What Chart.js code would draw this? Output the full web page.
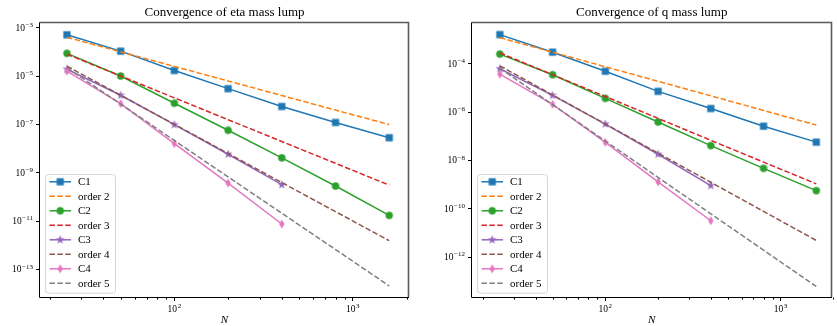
<!DOCTYPE html>
<html lang="en">
<head>
<meta charset="UTF-8">
<title>Convergence of mass lump</title>
<script src="https://cdn.jsdelivr.net/npm/chart.js"></script>
<style>
  html, body { margin: 0; padding: 0; background: #fff; }
  .wrap { position: relative; width: 837px; height: 326px; }
  canvas { position: absolute; top: 0; }
  #etaChart { left: 0; }
  #qChart { left: 418px; }
</style>
</head>
<body>
<div class="wrap">
  <canvas id="etaChart" width="418" height="326"></canvas>
  <canvas id="qChart" width="419" height="326"></canvas>
</div>
<script>
// grid sizes
const N = [25, 50, 100, 200, 400, 800, 1600];

// eta mass lump errors
const etaC1     = [5.1e-4, 1.07e-4, 1.7e-5, 3.0e-6, 5.5e-7, 1.2e-7, 2.8e-8];
const etaOrder2 = [4.0e-4, 1.0e-4, 2.5e-5, 6.25e-6, 1.56e-6, 3.9e-7, 9.8e-8];
const etaC2     = [8.7e-5, 1.0e-5, 7.5e-7, 5.7e-8, 4.1e-9, 2.8e-10, 1.7e-11];
const etaOrder3 = [8.0e-5, 1.0e-5, 1.25e-6, 1.56e-7, 1.95e-8, 2.44e-9, 3.05e-10];
const etaC3     = [1.9e-5, 1.6e-6, 9.7e-8, 5.8e-9, 3.2e-10];
const etaOrder4 = [2.56e-5, 1.6e-6, 1.0e-7, 6.25e-9, 3.9e-10, 2.44e-11, 1.53e-12];
const etaC4     = [1.6e-5, 7.2e-7, 1.6e-8, 3.7e-10, 7.5e-12];
const etaOrder5 = [2.2e-5, 6.9e-7, 2.15e-8, 6.7e-10, 2.1e-11, 6.6e-13, 2.05e-14];

// q mass lump errors
const qC1     = [1.6e-3, 3.0e-4, 4.9e-5, 7.2e-6, 1.4e-6, 2.6e-7, 5.7e-8];
const qOrder2 = [1.2e-3, 3.0e-4, 7.5e-5, 1.875e-5, 4.7e-6, 1.17e-6, 2.9e-7];
const qC2     = [2.5e-4, 3.5e-5, 3.7e-6, 3.9e-7, 4.1e-8, 4.7e-9, 5.6e-10];
const qOrder3 = [2.8e-4, 3.5e-5, 4.4e-6, 5.5e-7, 6.8e-8, 8.5e-9, 1.07e-9];
const qC3     = [6.2e-5, 4.9e-6, 3.2e-7, 1.8e-8, 9.1e-10];
const qOrder4 = [8.2e-5, 5.1e-6, 3.2e-7, 2.0e-8, 1.25e-9, 7.8e-11, 4.9e-12];
const qC4     = [3.7e-5, 2.1e-6, 5.6e-8, 1.3e-9, 3.2e-11];
const qOrder5 = [6.5e-5, 2.03e-6, 6.35e-8, 1.98e-9, 6.2e-11, 1.94e-12, 6.1e-14];

// ticks
const xMajorTicks = [100, 1000];
const xMinorTicks = [20, 30, 40, 50, 60, 70, 80, 90, 200, 300, 400, 500, 600, 700, 800, 900, 2000];
const etaYTicks = [1e-3, 1e-5, 1e-7, 1e-9, 1e-11, 1e-13];
const qYTicks = [1e-4, 1e-6, 1e-8, 1e-10, 1e-12];

const labels = ['C1', 'order 2', 'C2', 'order 3', 'C3', 'order 4', 'C4', 'order 5'];
const colors = ['#1f77b4', '#ff7f0e', '#2ca02c', '#d62728', '#9467bd', '#8c564b', '#e377c2', '#7f7f7f'];

const SERIF = '"Liberation Serif", "DejaVu Serif", serif';

function expOf(v) {
    return Math.round(Math.log10(v));
}

// "10" with a raised exponent, like matplotlib's mathtext labels
function drawPow(ctx, v, x, y, align) {
    const e = String(expOf(v)).replace('-', '\u2212');
    ctx.font = '9.5px ' + SERIF;
    const wb = ctx.measureText('10').width;
    ctx.font = '7px ' + SERIF;
    const we = ctx.measureText(e).width;
    const total = wb + 0.6 + we;
    const left = align === 'right' ? x - total : x - total / 2;
    ctx.textAlign = 'left';
    ctx.textBaseline = 'middle';
    ctx.font = '9.5px ' + SERIF;
    ctx.fillText('10', left, y + 0.5);
    ctx.font = '7px ' + SERIF;
    ctx.fillText(e, left + wb + 0.6, y - 2.6);
}

function makeMarker(shape, color) {
    const c = document.createElement('canvas');
    c.width = 12; c.height = 12;
    const g = c.getContext('2d');
    const m = 6;
    g.fillStyle = color;
    g.beginPath();
    if (shape === 'square') {
        g.rect(m - 3.6, m - 3.6, 7.2, 7.2);
    } else if (shape === 'circle') {
        g.arc(m, m, 3.7, 0, Math.PI * 2);
    } else if (shape === 'star') {
        for (let k = 0; k < 10; k++) {
            const r = k % 2 ? 1.9 : 4.7;
            const a = -Math.PI / 2 + k * Math.PI / 5;
            g.lineTo(m + r * Math.cos(a), m + r * Math.sin(a));
        }
        g.closePath();
    } else {
        g.moveTo(m, m - 4.6);
        g.lineTo(m + 2.7, m);
        g.lineTo(m, m + 4.6);
        g.lineTo(m - 2.7, m);
        g.closePath();
    }
    g.fill();
    return c;
}

const markers = [
    makeMarker('square', colors[0]), null,
    makeMarker('circle', colors[2]), null,
    makeMarker('star', colors[4]), null,
    makeMarker('diamond', colors[6]), null
];
const DASH = [5.5, 2.4];

function pts(ys) {
    return ys.map((y, i) => ({x: N[i], y: y}));
}

// axes box, minor ticks, tick labels and the lower-left legend
const framePlugin = {
    id: 'frame',
    afterDraw(chart) {
        const {ctx, chartArea: a} = chart;
        const L = Math.round(a.left), R = Math.round(a.right);
        const T = Math.round(a.top), B = Math.round(a.bottom);
        ctx.save();

        ctx.strokeStyle = '#5a5a5a';
        ctx.lineWidth = 1.6;
        ctx.beginPath();
        ctx.moveTo(L - 0.5, T - 0.5); ctx.lineTo(R - 0.5, T - 0.5); ctx.lineTo(R - 0.5, B);
        ctx.stroke();
        ctx.strokeStyle = '#000';
        ctx.lineWidth = 1;
        ctx.beginPath();
        ctx.moveTo(L - 0.5, T - 0.5); ctx.lineTo(L - 0.5, B + 0.5); ctx.lineTo(R, B + 0.5);
        ctx.stroke();

        // minor x ticks
        const xs = chart.scales.x, ys = chart.scales.y;
        ctx.beginPath();
        xMinorTicks.forEach(v => {
            const px = Math.round(xs.getPixelForValue(v)) + 0.5;
            ctx.moveTo(px, B + 0.5);
            ctx.lineTo(px, B + 2.6);
        });
        ctx.stroke();

        // tick labels
        ctx.fillStyle = '#000';
        xMajorTicks.forEach(v => drawPow(ctx, v, xs.getPixelForValue(v), B + 12, 'center'));
        ys.ticks.forEach(t => drawPow(ctx, t.value, L - 7, ys.getPixelForValue(t.value), 'right'));

        // legend
        ctx.font = '11px ' + SERIF;
        const w = 70, h = 118.7;
        const bx = a.left + 5, by = a.bottom - 4.3 - h;
        ctx.fillStyle = 'rgba(255,255,255,0.8)';
        ctx.strokeStyle = '#d6d6d6';
        ctx.beginPath();
        ctx.roundRect(bx + 0.5, by + 0.5, w, h, 3);
        ctx.fill();
        ctx.stroke();
        chart.data.datasets.forEach((ds, i) => {
            const y = by + 7.8 + i * 14.5;
            ctx.strokeStyle = ds.borderColor;
            ctx.lineWidth = 1.5;
            ctx.setLineDash(ds.borderDash || []);
            ctx.beginPath();
            ctx.moveTo(bx + 4.5, y);
            ctx.lineTo(bx + 26, y);
            ctx.stroke();
            ctx.setLineDash([]);
            if (markers[i]) {
                ctx.drawImage(markers[i], bx + 15.25 - 6, y - 6);
            }
            ctx.fillStyle = '#000';
            ctx.textAlign = 'left';
            ctx.textBaseline = 'middle';
            ctx.fillText(ds.label, bx + 33, y + 0.5);
        });
        ctx.restore();
    }
};

function makeChart(id, title, series, xMin, xMax, yMin, yMax, yTicks, yWidth, padRight) {
    const datasets = series.map((ys, i) => ({
        label: labels[i],
        data: pts(ys),
        borderColor: colors[i],
        backgroundColor: colors[i],
        borderWidth: 1.5,
        borderDash: i % 2 ? DASH : [],
        pointStyle: markers[i] || 'circle',
        pointRadius: markers[i] ? 4 : 0,
        pointHoverRadius: markers[i] ? 4 : 0,
        fill: false,
        tension: 0,
        order: 10 - i
    }));
    return new Chart(document.getElementById(id), {
        type: 'line',
        data: {datasets: datasets},
        plugins: [framePlugin],
        options: {
            responsive: false,
            animation: false,
            events: [],
            layout: {padding: {left: 0, right: padRight, top: 0, bottom: 0}},
            plugins: {
                legend: {display: false},
                tooltip: {enabled: false},
                title: {
                    display: true,
                    text: title,
                    fullSize: false,
                    color: '#000',
                    font: {family: SERIF, size: 13, weight: 'normal', lineHeight: 1.2},
                    padding: {top: 4.5, bottom: 3}
                }
            },
            scales: {
                x: {
                    type: 'logarithmic',
                    min: xMin,
                    max: xMax,
                    bounds: 'data',
                    border: {display: false},
                    grid: {drawOnChartArea: false, drawTicks: true, tickLength: 4, color: '#000'},
                    afterBuildTicks: s => {
                        s.ticks = xMajorTicks.map(v => ({value: v}));
                    },
                    afterFit: s => {
                        s.height = 29;
                        s.paddingLeft = 0; s.paddingRight = 0;
                    },
                    ticks: {
                        display: false,
                        autoSkip: false,
                        callback: v => '10^' + expOf(v)
                    },
                    title: {
                        display: true,
                        text: 'N',
                        color: '#000',
                        font: {family: SERIF, size: 11, style: 'italic', lineHeight: 1},
                        padding: {top: 0, bottom: 0}
                    }
                },
                y: {
                    type: 'logarithmic',
                    min: yMin,
                    max: yMax,
                    bounds: 'data',
                    border: {display: false},
                    grid: {drawOnChartArea: false, drawTicks: true, tickLength: 4, color: '#000'},
                    afterBuildTicks: s => {
                        s.ticks = yTicks.map(v => ({value: v}));
                    },
                    afterFit: s => {
                        s.width = yWidth;
                        s.paddingTop = 0; s.paddingBottom = 0;
                    },
                    ticks: {
                        display: false,
                        callback: v => '10^' + expOf(v)
                    }
                }
            }
        }
    });
}

makeChart('etaChart', 'Convergence of eta mass lump',
    [etaC1, etaOrder2, etaC2, etaOrder3, etaC3, etaOrder4, etaC4, etaOrder5],
    17.66, 2065, 7.16e-15, 1.55e-3, etaYTicks, 40, 9);

makeChart('qChart', 'Convergence of q mass lump',
    [qC1, qOrder2, qC2, qOrder3, qC3, qOrder4, qC4, qOrder5],
    17.34, 1954, 2.24e-14, 4.79e-3, qYTicks, 54, 0);
</script>
</body>
</html>
